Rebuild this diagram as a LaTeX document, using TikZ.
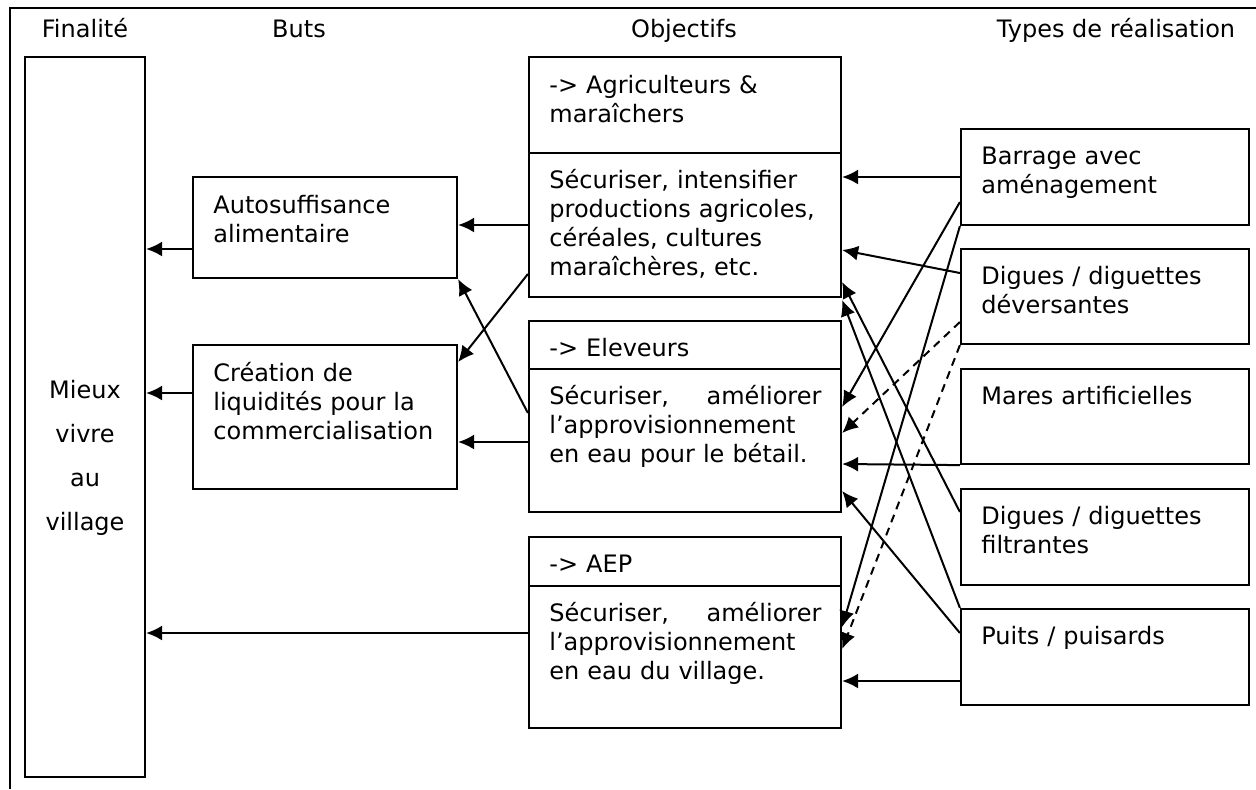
\documentclass[tikz,border=0pt]{standalone}
\usepackage{fontspec}
\setmainfont{DejaVu Sans}
\usetikzlibrary{arrows.meta,fit}

\begin{document}
\begin{tikzpicture}[x=0.5pt, y=-0.5pt,
    box/.style={draw, line width=1.1pt, inner sep=0pt},
    txt/.style={inner sep=0pt, anchor=base west, text width=150pt, align=left,
        font=\fontsize{12pt}{14.5pt}\selectfont},
    head/.style={inner sep=0pt, anchor=base, font=\fontsize{12pt}{14.5pt}\selectfont},
    arr/.style={-{Latex[length=8pt,width=7.5pt]}, line width=1pt},
    arrd/.style={arr, dash pattern=on 4pt off 3pt}]
            \useasboundingbox (0,0) rectangle (1256,789);

            % Outer frame
            \draw[line width=1.3pt] (1256,8) -- (10,8) -- (10,789);

            % Column headings
            \node[head] (FinTitle) at (85,37) {Finalité};
            \node[head] (ButsTitle) at (299,37) {Buts};
            \node[head] (ObjTitle) at (684,37) {Objectifs};
            \node[head] (TypTitle) at (1116,37) {Types de réalisation};

            % Finalite
            \node[box, fit={(25,57) (145,777)}] (Mieux) {};
            \node[inner sep=0pt, anchor=base, align=center,
                font=\fontsize{12pt}{22pt}\selectfont] (MieuxTxt) at (85,530) {Mieux\\vivre\\au\\village};

            % Buts
            \node[box, fit={(193,177) (457,278)}] (Autosuff) {};
            \node[txt] (AutosuffTxt) at (213,213) {Autosuffisance\\alimentaire};
            \node[box, fit={(193,345) (457,489)}] (Creation) {};
            \node[txt] (CreationTxt) at (213,381) {Création de\\liquidités pour la\\commercialisation};

            % Objectifs
            \node[box, fit={(529,57) (841,153)}] (AgriHead) {};
            \node[txt] (AgriHeadTxt) at (549,93) {-> Agriculteurs \&\\maraîchers};
            \node[box, fit={(529,153) (841,297)}] (Agri) {};
            \node[txt] (AgriTxt) at (549,188) {Sécuriser, intensifier\\productions agricoles,\\céréales, cultures\\maraîchères, etc.};

            \node[box, fit={(529,321) (841,369)}] (EleHead) {};
            \node[txt] (EleHeadTxt) at (549,356) {-> Eleveurs};
            \node[box, fit={(529,369) (841,512)}] (Ele) {};
            \node[txt] (EleTxt) at (549,404) {\leavevmode\hbox to 136pt{Sécuriser,\hfill améliorer}\\l’approvisionnement\\en eau pour le bétail.};

            \node[box, fit={(529,537) (841,586)}] (AepHead) {};
            \node[txt] (AepHeadTxt) at (549,572) {-> AEP};
            \node[box, fit={(529,586) (841,728)}] (Aep) {};
            \node[txt] (AepTxt) at (549,621) {\leavevmode\hbox to 136pt{Sécuriser,\hfill améliorer}\\l’approvisionnement\\en eau du village.};

            % Types de realisation
            \node[box, fit={(961,129) (1249,225)}] (Barrage) {};
            \node[txt] (BarrageTxt) at (981,164) {Barrage avec\\aménagement};
            \node[box, fit={(961,249) (1249,344)}] (DigDev) {};
            \node[txt] (DigDevTxt) at (981,284) {Digues / diguettes\\déversantes};
            \node[box, fit={(961,369) (1249,464)}] (Mares) {};
            \node[txt] (MaresTxt) at (981,404) {Mares artificielles};
            \node[box, fit={(961,489) (1249,585)}] (DigFil) {};
            \node[txt] (DigFilTxt) at (981,524) {Digues / diguettes\\filtrantes};
            \node[box, fit={(961,609) (1249,705)}] (Puits) {};
            \node[txt] (PuitsTxt) at (981,644) {Puits / puisards};

            % Objectifs -> buts -> finalite
            \path[arr] (Autosuff.west |- 0,249) edge (Mieux.east |- 0,249);
            \path[arr] (Creation.west |- 0,393) edge (Mieux.east |- 0,393);
            \path[arr] (Aep.west |- 0,633) edge (Mieux.east |- 0,633);
            \path[arr] (Agri.west |- 0,225) edge (Autosuff.east |- 0,225);
            \path[arr] (Agri.west |- 0,274) edge (Creation.east |- 0,362);
            \path[arr] (Ele.west |- 0,413) edge (Autosuff.south east);
            \path[arr] (Ele.west |- 0,442) edge (Creation.east |- 0,442);

            % Types de realisation -> objectifs
            \path[arr] (Barrage.west |- 0,177) edge (Agri.east |- 0,177);
            \path[arr] (Barrage.west |- 0,202) edge (Ele.east |- 0,407);
            \path[arr] (Barrage.south west) edge (Aep.east |- 0,627);
            \path[arr] (DigDev.west |- 0,273) edge (Agri.east |- 0,250);
            \path[arrd] (DigDev.west |- 0,322) edge (Ele.east |- 0,433);
            \path[arrd] (DigDev.south west) edge (Aep.east |- 0,649);
            \path[arr] (Mares.south west) edge (Ele.east |- 0,464);
            \path[arr] (DigFil.west |- 0,512) edge (Agri.east |- 0,282);
            \path[arr] (Puits.north west) edge (Agri.east |- 0,300);
            \path[arr] (Puits.west |- 0,633) edge (Ele.east |- 0,491);
            \path[arr] (Puits.west |- 0,681) edge (Aep.east |- 0,681);
        \end{tikzpicture}
\end{document}
